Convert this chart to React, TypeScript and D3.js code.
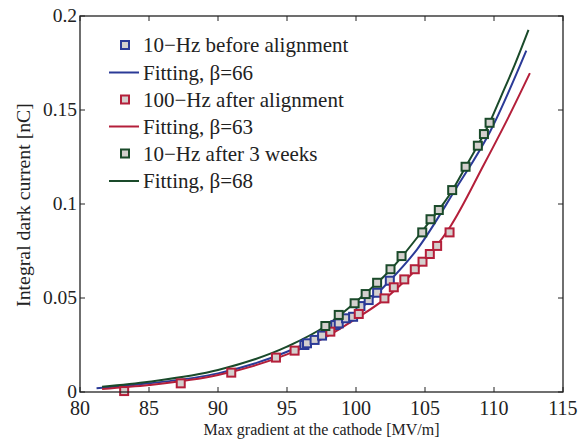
import React from "react";
import * as d3 from "d3";

// ---- data ----
const blueX = [96.26, 96.45, 97.0, 97.54, 98.5, 98.75, 99.28, 99.79, 100.32, 100.92, 101.53, 102.45];
const blueY = [0.025, 0.0259, 0.0277, 0.03, 0.0356, 0.0365, 0.0392, 0.04, 0.0457, 0.0489, 0.0528, 0.0592];

const redX = [83.2, 87.3, 90.96, 94.2, 95.55, 98.14, 100.2, 102.06, 102.74, 103.5, 104.26, 104.82, 105.35, 105.88, 106.78];
const redY = [0.0005, 0.0046, 0.0103, 0.0183, 0.022, 0.0321, 0.0415, 0.0498, 0.0557, 0.0599, 0.0653, 0.0693, 0.0734, 0.0777, 0.0849];

const greenX = [97.78, 98.75, 99.9, 100.7, 101.53, 102.5, 103.3, 104.8, 105.4, 106.0, 106.97, 107.94, 108.83, 109.27, 109.68];
const greenY = [0.0351, 0.041, 0.0472, 0.0521, 0.0581, 0.0653, 0.0723, 0.0849, 0.0919, 0.0968, 0.1074, 0.1198, 0.131, 0.1372, 0.1432];

const blueFitX = [81.2, 85, 90, 95, 97.5, 100, 102.5, 104.43, 107.2, 109.75, 112.34];
const blueFitY = [0.002, 0.0046, 0.0099, 0.0214, 0.03, 0.0425, 0.0596, 0.0759, 0.1077, 0.1390, 0.1816];

const redFitX = [81.6, 85, 90, 95, 98, 100, 102, 104, 105.64, 106.85, 109.27, 111.07, 112.6];
const redFitY = [0.0016, 0.0037, 0.009, 0.02, 0.03, 0.039, 0.049, 0.0625, 0.0759, 0.0882, 0.121, 0.1465, 0.1696];

const greenFitX = [81.6, 85, 90, 95, 97.8, 100, 102.5, 105, 107, 108, 109.68, 110.5, 111.5, 112.5];
const greenFitY = [0.0028, 0.0055, 0.0117, 0.0241, 0.0351, 0.048, 0.065, 0.0875, 0.1075, 0.1205, 0.1432, 0.157, 0.174, 0.1926];

const xTicks = [80, 85, 90, 95, 100, 105, 110, 115];
const yTicks = [0, 0.05, 0.1, 0.15, 0.2];
const yTickLabels = ["0", "0.05", "0.1", "0.15", "0.2"];

const legendLabels = [
  "10\u2212Hz before alignment",
  "Fitting, \u03b2=66",
  "100\u2212Hz after alignment",
  "Fitting, \u03b2=63",
  "10\u2212Hz after 3 weeks",
  "Fitting, \u03b2=68",
];

const BLUE = "#2b3a97";
const RED = "#b41f3a";
const GREEN = "#1a4a2a";
const FILL = "#d4d0ce";

export default function App() {
  const W = 585, H = 441;
  const L = 80, R = 563, T = 16, B = 392;
  const x = d3.scaleLinear().domain([80, 115]).range([L, R]);
  const y = d3.scaleLinear().domain([0, 0.2]).range([B, T]);
  const font = "'Liberation Serif', 'Times New Roman', serif";

  const line = d3
    .line<[number, number]>()
    .x((d) => x(d[0]))
    .y((d) => y(d[1]))
    .curve(d3.curveMonotoneX);

  const zip = (a: number[], b: number[]) => a.map((v, i) => [v, b[i]] as [number, number]);

  const fits = [
    { xs: blueFitX, ys: blueFitY, c: BLUE },
    { xs: redFitX, ys: redFitY, c: RED },
    { xs: greenFitX, ys: greenFitY, c: GREEN },
  ];
  const scat = [
    { xs: blueX, ys: blueY, c: BLUE },
    { xs: redX, ys: redY, c: RED },
    { xs: greenX, ys: greenY, c: GREEN },
  ];

  const ms = 8;
  const legendRows = [45, 72.5, 99.5, 126.5, 153.5, 181];
  const legendItems = [
    { type: "m", c: BLUE },
    { type: "l", c: BLUE },
    { type: "m", c: RED },
    { type: "l", c: RED },
    { type: "m", c: GREEN },
    { type: "l", c: GREEN },
  ];

  return (
    <svg width={W} height={H} style={{ position: "absolute", left: 0, top: 0, background: "#fff" }} fontFamily={font}>
      <rect x={0} y={0} width={W} height={H} fill="#fff" />
      {fits.map((f, i) => (
        <path key={"f" + i} d={line(zip(f.xs, f.ys)) || ""} fill="none" stroke={f.c} strokeWidth={2} />
      ))}
      {scat.map((s, i) => (
        <g key={"s" + i}>
          {s.xs.map((v, j) => (
            <rect
              key={j}
              x={x(v) - ms / 2}
              y={y(s.ys[j]) - ms / 2}
              width={ms}
              height={ms}
              fill={FILL}
              stroke={s.c}
              strokeWidth={2}
            />
          ))}
        </g>
      ))}
      <rect x={L} y={T} width={R - L} height={B - T} fill="none" stroke="#222" strokeWidth={1.3} />
      {xTicks.map((t) => (
        <g key={"xt" + t}>
          <line x1={x(t)} x2={x(t)} y1={B} y2={B - 5} stroke="#222" strokeWidth={1} />
          <line x1={x(t)} x2={x(t)} y1={T} y2={T + 5} stroke="#222" strokeWidth={1} />
          <text x={x(t)} y={B + 23} textAnchor="middle" fontSize={20} fill="#222">
            {t}
          </text>
        </g>
      ))}
      {yTicks.map((t, i) => (
        <g key={"yt" + t}>
          <line x1={L} x2={L + 5} y1={y(t)} y2={y(t)} stroke="#222" strokeWidth={1} />
          <line x1={R} x2={R - 5} y1={y(t)} y2={y(t)} stroke="#222" strokeWidth={1} />
          <text x={L - 3} y={y(t) + 6} textAnchor="end" fontSize={19.5} fill="#222">
            {yTickLabels[i]}
          </text>
        </g>
      ))}
      <text x={(L + R) / 2} y={435} textAnchor="middle" fontSize={16} fill="#222">
        Max gradient at the cathode [MV/m]
      </text>
      <text
        transform={`translate(30, ${(T + B) / 2 + 1}) rotate(-90)`}
        textAnchor="middle"
        fontSize={19.8}
        fill="#222"
      >
        Integral dark current [nC]
      </text>
      {legendItems.map((it, i) => (
        <g key={"lg" + i}>
          {it.type === "m" ? (
            <rect x={125 - ms / 2} y={legendRows[i] - ms / 2} width={ms} height={ms} fill={FILL} stroke={it.c} strokeWidth={2} />
          ) : (
            <line x1={109} x2={139} y1={legendRows[i]} y2={legendRows[i]} stroke={it.c} strokeWidth={2} />
          )}
          <text x={143} y={legendRows[i] + 7} fontSize={21} fill="#222">
            {legendLabels[i]}
          </text>
        </g>
      ))}
    </svg>
  );
}
